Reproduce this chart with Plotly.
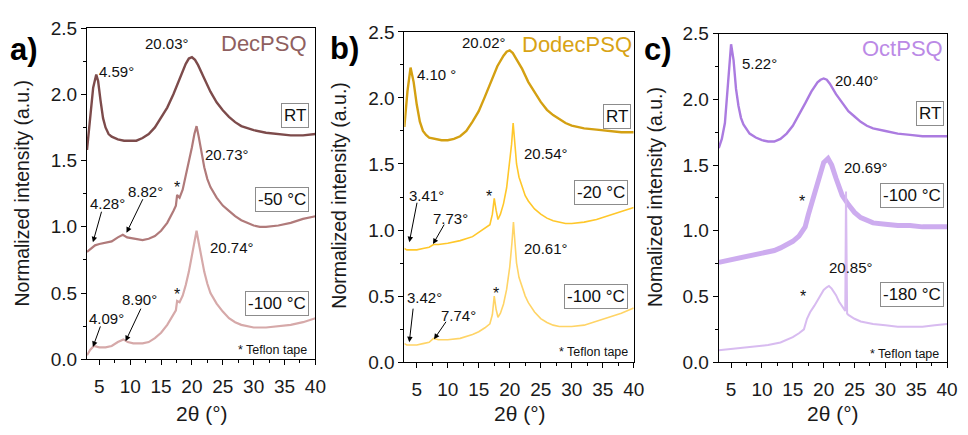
import plotly.graph_objects as go

W, H = 968, 435
FONT = "Liberation Sans, Arial, sans-serif"

# ---------------- data ----------------
# Panel a) DecPSQ
a_rt_x = [3, 3.5, 4, 4.5, 4.8, 5.2, 5.6, 6, 6.5, 7, 8, 9, 10, 11, 12, 13, 14, 15, 16, 17, 18, 19, 19.5, 20, 20.5, 21, 22, 23, 24, 25, 26, 27, 28, 30, 32, 34, 36, 38, 40]
a_rt_y = [1.58, 1.80, 2.05, 2.15, 2.10, 1.95, 1.82, 1.75, 1.70, 1.68, 1.66, 1.65, 1.65, 1.65, 1.67, 1.70, 1.75, 1.82, 1.90, 2.00, 2.12, 2.23, 2.27, 2.28, 2.26, 2.22, 2.12, 2.02, 1.94, 1.88, 1.83, 1.79, 1.76, 1.73, 1.71, 1.70, 1.69, 1.69, 1.70]
a_m50_x = [3, 3.5, 4.3, 5, 6, 7, 8, 8.8, 9.5, 10.5, 12, 13, 14, 15, 16, 17, 17.4, 17.6, 18, 18.5, 19, 19.5, 20, 20.4, 20.75, 21.1, 21.5, 22, 22.5, 23, 24, 25, 26, 27, 28, 29, 30, 31, 32, 34, 36, 38, 40]
a_m50_y = [0.81, 0.83, 0.86, 0.87, 0.88, 0.89, 0.92, 0.94, 0.92, 0.91, 0.90, 0.91, 0.93, 0.97, 1.03, 1.12, 1.16, 1.24, 1.22, 1.28, 1.38, 1.48, 1.60, 1.70, 1.76, 1.68, 1.57, 1.45, 1.36, 1.30, 1.22, 1.16, 1.12, 1.08, 1.05, 1.03, 1.01, 1.00, 1.00, 1.01, 1.03, 1.06, 1.08]
a_m100_x = [3, 3.5, 4.1, 5, 6, 7, 8, 8.9, 9.6, 10.5, 12, 13, 14, 15, 16, 17, 17.4, 17.6, 18, 18.5, 19, 19.5, 20, 20.4, 20.75, 21.1, 21.5, 22, 22.5, 23, 24, 25, 26, 27, 28, 30, 32, 34, 36, 38, 40]
a_m100_y = [0.03, 0.07, 0.10, 0.09, 0.09, 0.10, 0.13, 0.15, 0.13, 0.12, 0.12, 0.13, 0.16, 0.20, 0.26, 0.34, 0.37, 0.44, 0.43, 0.48, 0.56, 0.66, 0.78, 0.90, 0.97, 0.88, 0.78, 0.66, 0.57, 0.50, 0.42, 0.36, 0.31, 0.28, 0.26, 0.24, 0.24, 0.25, 0.26, 0.28, 0.31]

# Panel b) DodecPSQ
b_rt_x = [3, 3.5, 4.0, 4.5, 5, 5.5, 6, 6.5, 7, 8, 9, 10, 11, 12, 13, 14, 15, 16, 17, 18, 19, 19.5, 20, 20.5, 21, 22, 23, 24, 25, 26, 27, 28, 29, 30, 32, 34, 36, 38, 40]
b_rt_y = [1.78, 2.05, 2.23, 2.12, 1.95, 1.82, 1.75, 1.72, 1.70, 1.69, 1.68, 1.68, 1.69, 1.71, 1.75, 1.82, 1.90, 2.01, 2.13, 2.24, 2.32, 2.35, 2.36, 2.34, 2.30, 2.22, 2.12, 2.04, 1.97, 1.91, 1.87, 1.84, 1.81, 1.79, 1.77, 1.76, 1.75, 1.74, 1.74]
b_m20_x = [3, 3.4, 4, 5, 6, 7, 7.7, 8.5, 10, 12, 14, 15, 16, 16.8, 17.2, 17.5, 17.8, 18.1, 18.5, 19, 19.5, 20, 20.3, 20.55, 20.8, 21.1, 21.5, 22, 22.5, 23, 24, 25, 26, 27, 28, 29, 30, 32, 34, 36, 38, 40]
b_m20_y = [0.86, 0.85, 0.85, 0.85, 0.86, 0.87, 0.89, 0.89, 0.90, 0.92, 0.95, 0.98, 1.01, 1.04, 1.12, 1.24, 1.15, 1.08, 1.12, 1.20, 1.32, 1.50, 1.65, 1.81, 1.65, 1.50, 1.40, 1.32, 1.26, 1.22, 1.16, 1.12, 1.09, 1.07, 1.06, 1.05, 1.05, 1.06, 1.08, 1.11, 1.14, 1.17]
b_m100_x = [3, 3.4, 4, 5, 6, 7, 7.7, 8.5, 10, 12, 14, 15, 16, 16.8, 17.2, 17.5, 17.8, 18.1, 18.5, 19, 19.5, 20, 20.35, 20.6, 20.85, 21.1, 21.5, 22, 22.5, 23, 24, 25, 26, 27, 28, 29, 30, 32, 34, 36, 38, 40]
b_m100_y = [0.14, 0.13, 0.13, 0.13, 0.14, 0.15, 0.18, 0.17, 0.17, 0.18, 0.21, 0.23, 0.26, 0.29, 0.36, 0.50, 0.40, 0.34, 0.37, 0.44, 0.55, 0.72, 0.90, 1.06, 0.90, 0.75, 0.64, 0.57, 0.50, 0.45, 0.38, 0.33, 0.30, 0.28, 0.27, 0.27, 0.27, 0.28, 0.31, 0.34, 0.37, 0.41]

# Panel c) OctPSQ
c_rt_x = [3, 3.5, 4, 4.5, 5.0, 5.4, 5.8, 6.2, 6.6, 7, 7.5, 8, 9, 10, 11, 12, 13, 14, 15, 16, 17, 18, 19, 19.5, 20, 20.5, 21, 22, 23, 24, 25, 26, 27, 28, 30, 32, 34, 36, 38, 40]
c_rt_y = [1.63, 1.70, 1.82, 2.10, 2.42, 2.30, 2.08, 1.95, 1.86, 1.81, 1.77, 1.74, 1.71, 1.69, 1.68, 1.68, 1.70, 1.74, 1.80, 1.88, 1.97, 2.06, 2.13, 2.15, 2.16, 2.15, 2.12, 2.04, 1.97, 1.91, 1.87, 1.83, 1.80, 1.78, 1.76, 1.74, 1.73, 1.72, 1.72, 1.72]
c_m100_x = [3, 4, 6, 8, 10, 12, 13, 14, 15, 16, 16.5, 17, 17.5, 18, 18.5, 19, 19.5, 20, 20.7, 21.3, 22, 22.5, 23, 24, 25, 26, 27, 28, 30, 32, 34, 36, 38, 40]
c_m100_y = [0.76, 0.77, 0.79, 0.81, 0.83, 0.85, 0.87, 0.89, 0.92, 0.96, 0.99, 1.03, 1.12, 1.20, 1.28, 1.36, 1.45, 1.52, 1.55, 1.50, 1.40, 1.33, 1.27, 1.20, 1.14, 1.10, 1.08, 1.06, 1.05, 1.04, 1.04, 1.03, 1.03, 1.03]
c_m180_x = [3, 5, 7, 9, 11, 13, 14, 15, 16, 16.8, 17.3, 17.8, 18.5, 19, 19.5, 20, 20.5, 20.85, 21.3, 22, 22.5, 23, 23.5, 23.62, 23.7, 23.8, 24, 25, 26, 27, 28, 30, 32, 34, 36, 38, 40]
c_m180_y = [0.09, 0.10, 0.11, 0.12, 0.13, 0.15, 0.17, 0.19, 0.22, 0.25, 0.33, 0.38, 0.43, 0.47, 0.51, 0.55, 0.57, 0.58, 0.56, 0.51, 0.46, 0.42, 0.39, 1.30, 0.38, 0.37, 0.36, 0.33, 0.31, 0.30, 0.29, 0.28, 0.27, 0.27, 0.27, 0.28, 0.29]

x_ticks = [5, 10, 15, 20, 25, 30, 35, 40]
y_ticks = [0.0, 0.5, 1.0, 1.5, 2.0, 2.5]

# ---------------- figure ----------------
fig = go.Figure()

traces = [
    (a_rt_x, a_rt_y, "x", "y", "#7d4b4b", 2.4, 1.0),
    (a_m50_x, a_m50_y, "x", "y", "#b07a7a", 2.2, 1.0),
    (a_m100_x, a_m100_y, "x", "y", "#d6a9a9", 2.2, 1.0),
    (b_rt_x, b_rt_y, "x2", "y2", "#d4a012", 2.4, 1.0),
    (b_m20_x, b_m20_y, "x2", "y2", "#ffc72a", 1.6, 1.0),
    (b_m100_x, b_m100_y, "x2", "y2", "#ffd466", 1.6, 1.0),
    (c_rt_x, c_rt_y, "x3", "y3", "#ab7be0", 2.4, 1.0),
    (c_m100_x, c_m100_y, "x3", "y3", "#bd90ea", 5.0, 0.75),
    (c_m180_x, c_m180_y, "x3", "y3", "#d6b8f0", 2.0, 0.95),
]
for xs, ys, xa, ya, col, lw, op in traces:
    fig.add_trace(go.Scatter(x=xs, y=ys, xaxis=xa, yaxis=ya, mode="lines",
                             line=dict(color=col, width=lw), opacity=op,
                             showlegend=False, hoverinfo="skip"))

def xa(dom, anchor):
    return dict(domain=dom, anchor=anchor, range=[3, 40], tickvals=x_ticks,
                ticks="outside", ticklen=5, tickwidth=1, tickcolor="black",
                showline=True, linecolor="black", linewidth=1, mirror=True,
                showgrid=False, zeroline=False, ticklabelstandoff=5,
                tickfont=dict(family=FONT, size=19, color="#1a1a1a"),
                minor=dict(dtick=2.5, tick0=2.5, ticks="outside", ticklen=3,
                           tickcolor="black", showgrid=False))

def ya(dom, anchor):
    return dict(domain=dom, anchor=anchor, range=[0, 2.5], tickvals=y_ticks,
                tickformat=".1f", ticks="outside", ticklen=5, tickwidth=1,
                tickcolor="black", showline=True, linecolor="black", linewidth=1,
                mirror=True, showgrid=False, zeroline=False,
                tickfont=dict(family=FONT, size=19, color="#1a1a1a"),
                minor=dict(dtick=0.25, ticks="outside", ticklen=3,
                           tickcolor="black", showgrid=False))

def px(x):
    return x / W

def py(y):
    return 1 - y / H

fig.update_layout(
    width=W, height=H, margin=dict(l=0, r=0, t=0, b=0),
    paper_bgcolor="white", plot_bgcolor="white",
    xaxis=xa([px(88), px(319)], "y"), yaxis=ya([py(367), py(19)], "x"),
    xaxis2=xa([px(409), px(641)], "y2"), yaxis2=ya([py(370), py(23)], "x2"),
    xaxis3=xa([px(727), px(958)], "y3"), yaxis3=ya([py(370), py(25)], "x3"),
)

ann = []

def text(t, x, y, size=15, color="#111", xanchor="center", bold=False, angle=0):
    ann.append(dict(text=("<b>%s</b>" % t) if bold else t, x=px(x), y=py(y),
                    xref="paper", yref="paper", showarrow=False, xanchor=xanchor,
                    yanchor="middle", textangle=angle,
                    font=dict(family=FONT, size=size, color=color)))

def box(t, x_right, y):
    ann.append(dict(text=t, x=px(x_right), y=py(y), xref="paper", yref="paper",
                    showarrow=False, xanchor="right", yanchor="middle",
                    bordercolor="#8c8c8c", borderwidth=1, borderpad=2,
                    bgcolor="white", font=dict(family=FONT, size=17, color="#111")))

def arrow(x0, y0, x1, y1):
    ann.append(dict(text="", x=px(x1), y=py(y1), xref="paper", yref="paper",
                    ax=x0 - x1, ay=y0 - y1, axref="pixel", ayref="pixel",
                    showarrow=True, arrowhead=2, arrowsize=1.1, arrowwidth=1,
                    arrowcolor="black", standoff=0))

# panel labels and titles
text("a)", 24, 42, size=31, color="black", bold=True)
text("b)", 348, 40, size=31, color="black", bold=True)
text("c)", 666, 41, size=31, color="black", bold=True)
text("DecPSQ", 313, 35, size=22, color="#8f5f5f", xanchor="right")
text("DodecPSQ", 641, 36, size=22, color="#d8a314", xanchor="right")
text("OctPSQ", 956, 40, size=22, color="#bb8ae6", xanchor="right")

# axis titles
for cx in (204, 526, 843):
    text("2θ (°)", cx, 424, size=21, color="#1a1a1a")
text("Normalized intensity (a.u.)", 22, 192, size=19.5, color="#1a1a1a", angle=-90)
text("Normalized intensity (a.u.)", 342, 195, size=19.5, color="#1a1a1a", angle=-90)
text("Nomalized intensity (a.u.)", 662, 196, size=19.5, color="#1a1a1a", angle=-90)

# panel a annotations
text("20.03°", 169, 35)
text("4.59°", 98, 65, xanchor="left")
box("RT", 313, 111)
text("20.73°", 230, 152)
box("-50 °C", 313, 199)
text("*", 179, 186, size=16)
text("4.28°", 109, 203)
text("8.82°", 147, 191)
arrow(103, 212, 94, 244)
arrow(145, 199, 128, 234)
text("20.74°", 235, 250)
box("-100 °C", 313, 308)
text("*", 179, 299, size=16)
text("8.90°", 141, 304)
text("4.09°", 108, 324)
arrow(102, 332, 94, 354)
arrow(143, 314, 127, 348)
text("* Teflon tape", 313, 357, size=12.5, xanchor="right")

# panel b annotations
text("20.02°", 490, 34)
text("4.10 °", 420, 68, xanchor="left")
box("RT", 638, 112)
text("20.54°", 552, 151)
box("-20 °C", 635, 192)
text("3.41°", 431, 195)
text("7.73°", 456, 219)
text("*", 495, 196, size=16)
arrow(422, 203, 414, 244)
arrow(450, 225, 438, 246)
text("20.61°", 552, 251)
box("-100 °C", 635, 301)
text("3.42°", 429, 302)
text("*", 502, 298, size=16)
text("7.74°", 464, 321)
arrow(418, 314, 414, 349)
arrow(452, 327, 439, 346)
text("* Teflon tape", 637, 359, size=12.5, xanchor="right")

# panel c annotations
text("5.22°", 748, 56, xanchor="left")
text("20.40°", 867, 74)
box("RT", 955, 109)
text("20.69°", 876, 165)
box("-100 °C", 955, 195)
text("*", 811, 201, size=16)
text("20.85°", 861, 271)
box("-180 °C", 955, 299)
text("*", 812, 301, size=16)
text("* Teflon tape", 952, 361, size=12.5, xanchor="right")

fig.update_layout(annotations=ann)
fig.write_html("out.html")
